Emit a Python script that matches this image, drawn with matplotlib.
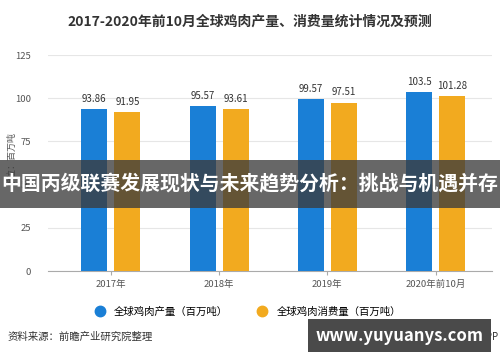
import matplotlib.pyplot as plt
import numpy as np
from matplotlib.lines import Line2D
from matplotlib.patches import Rectangle

plt.rcParams['font.family'] = ['Noto Sans CJK SC', 'DejaVu Sans']

years = ['2017年', '2018年', '2019年', '2020年前10月']
production = [93.86, 95.57, 99.57, 103.5]
consumption = [91.95, 93.61, 97.51, 101.28]
prod_labels = ['93.86', '95.57', '99.57', '103.5']
cons_labels = ['91.95', '93.61', '97.51', '101.28']

blue = '#1a7fd6'
orange = '#f2aa1f'

fig = plt.figure(figsize=(5, 3.62), dpi=100)
ax = fig.add_axes([0.096, 0.251, 0.888, 0.597])

x = np.arange(len(years))
w = 0.24
off = 0.153
ax.bar(x - off, production, w, color=blue, zorder=3)
ax.bar(x + off, consumption, w, color=orange, zorder=3)
for i in range(len(years)):
    ax.text(x[i] - off, production[i] + 3, prod_labels[i], ha='center', va='bottom', fontsize=7, color='#333333')
    ax.text(x[i] + off, consumption[i] + 3, cons_labels[i], ha='center', va='bottom', fontsize=7, color='#333333')

ax.set_xlim(-0.58, 3.52)
ax.set_ylim(0, 125)
ax.set_yticks([0, 25, 50, 75, 100, 125])
ax.set_xticks(x)
ax.set_xticklabels(years)
ax.tick_params(axis='y', length=0, labelsize=6.8, labelcolor='#555555', pad=12)
ax.tick_params(axis='x', length=3, color='#aaaaaa', labelsize=6.8, labelcolor='#555555')
ax.grid(axis='y', color='#e6e6e6', linewidth=0.8, zorder=0)
for s in ['top', 'right', 'left']:
    ax.spines[s].set_visible(False)
ax.spines['bottom'].set_color('#aaaaaa')

fig.text(0.024, 0.56, '单位：百万吨', rotation=90, ha='center', va='center', fontsize=6.5, color='#555555')

fig.text(0.5, 0.94, '2017-2020年前10月全球鸡肉产量、消费量统计情况及预测', ha='center', va='center',
         fontsize=10, fontweight='bold', color='#333333')

handles = [Line2D([], [], marker='o', linestyle='', color=blue, markersize=7.5),
           Line2D([], [], marker='o', linestyle='', color=orange, markersize=7.5)]
fig.legend(handles, ['全球鸡肉产量（百万吨）', '全球鸡肉消费量（百万吨）'], loc='center',
           bbox_to_anchor=(0.49, 0.138), ncol=2, frameon=False, fontsize=7.5, columnspacing=2.2,
           handletextpad=0.4)

fig.text(0.016, 0.069, '资料来源：前瞻产业研究院整理', ha='left', va='center', fontsize=7.5, color='#333333')

# overlay band
fig.patches.append(Rectangle((0, 1 - 208 / 362), 1, 48 / 362, transform=fig.transFigure,
                             facecolor='#3c3c3c', alpha=0.78, zorder=10))
fig.text(0.5, 1 - 184 / 362, '中国丙级联赛发展现状与未来趋势分析：挑战与机遇并存', ha='center', va='center',
         fontsize=14.3, fontweight='bold', color='white', zorder=11)

# bottom right box
fig.text(0.998, 0.069, 'APP', ha='right', va='center', fontsize=7, color='#333333', zorder=9)
fig.patches.append(Rectangle((308 / 500, 1 - 352 / 362), 183 / 500, 33 / 362, transform=fig.transFigure,
                             facecolor='#4a4a4a', zorder=10))
fig.text(400 / 500, 1 - 336 / 362, 'www.yuyuanys.com', ha='center', va='center', fontsize=12,
         fontweight='bold', color='white', zorder=11)

fig.savefig('out.png', dpi=100)
